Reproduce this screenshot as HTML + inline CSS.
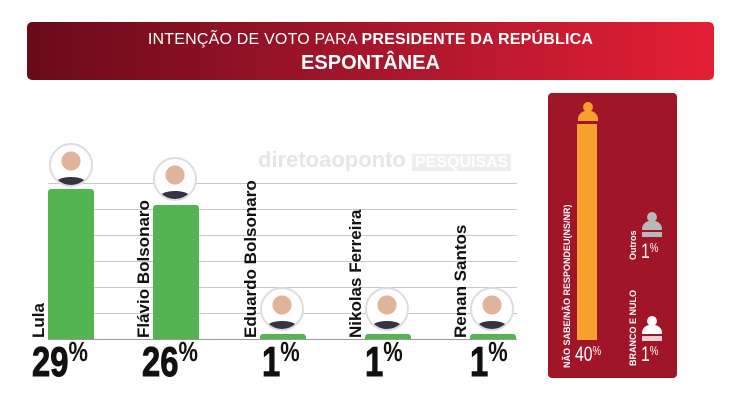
<!DOCTYPE html>
<html><head><meta charset="utf-8"><style>
body{margin:0;width:740px;height:418px;background:#fff;position:relative;overflow:hidden;font-family:"Liberation Sans",sans-serif}
.a{position:absolute}
.hdr{left:27px;top:22px;width:687px;height:58px;border-radius:5px;background:linear-gradient(90deg,#6a0a1a,#a0152a 45%,#e41f35);color:#fff;text-align:center}
.g{position:absolute;left:48px;width:469px;height:1px;background:#c8c8c8}
.bar{position:absolute;background:#52b552;border-radius:3px 3px 0 0;width:46px}
.nm{position:absolute;font-weight:bold;font-size:17px;color:#111;transform-origin:0 0;transform:rotate(-90deg);white-space:nowrap}
.pc{position:absolute;font-weight:bold;font-size:42px;color:#111;font-family:"Liberation Sans Narrow","Liberation Sans",sans-serif;transform:scaleX(.78);transform-origin:0 0;line-height:1;-webkit-text-stroke:1px #111}
.pc sup{font-size:28px;vertical-align:top;position:relative;top:-3px;-webkit-text-stroke:0}
.av{position:absolute;width:40px;height:40px;border-radius:50%;border:2px solid #ddd;background:radial-gradient(circle at 50% 40%,#e0b49a 0 30%,#fff 31%);overflow:hidden}
.av:after{content:"";position:absolute;left:4px;right:4px;bottom:-6px;height:14px;border-radius:50% 50% 0 0;background:#334}
.sm{position:absolute;font-size:21px;color:#fff;transform:scaleX(.75);transform-origin:0 0;line-height:1}
.sm sup{font-size:13px;vertical-align:top}
</style></head><body>
<div class="a hdr"><div style="font-size:16px;margin-top:9px;letter-spacing:.2px">INTENÇÃO DE VOTO PARA <b>PRESIDENTE DA REPÚBLICA</b></div><div style="font-size:20px;font-weight:bold;margin-top:3px">ESPONTÂNEA</div></div>
<div class="a" style="left:258px;top:147px;font-size:22px;font-weight:bold;color:#e6e6e6">diretoaoponto <span style="background:#eee;color:#fff;padding:0 3px;font-size:16px">PESQUISAS</span></div>
<div class="g" style="top:183px"></div><div class="g" style="top:209px"></div><div class="g" style="top:235px"></div><div class="g" style="top:261px"></div><div class="g" style="top:287px"></div><div class="g" style="top:313px"></div><div class="g" style="top:339px;background:#999"></div>
<div class="bar" style="left:48px;top:189px;height:150px"></div>
<div class="bar" style="left:153px;top:205px;height:134px"></div>
<div class="bar" style="left:260px;top:334px;height:5px"></div>
<div class="bar" style="left:365px;top:334px;height:5px"></div>
<div class="bar" style="left:470px;top:334px;height:5px"></div>
<div class="av" style="left:49px;top:143px"></div>
<div class="av" style="left:153px;top:157px"></div>
<div class="av" style="left:260px;top:287px"></div>
<div class="av" style="left:365px;top:287px"></div>
<div class="av" style="left:470px;top:287px"></div>
<div class="nm" style="left:29px;top:338px">Lula</div>
<div class="nm" style="left:134px;top:338px">Flávio Bolsonaro</div>
<div class="nm" style="left:241px;top:338px">Eduardo Bolsonaro</div>
<div class="nm" style="left:346px;top:338px">Nikolas Ferreira</div>
<div class="nm" style="left:451px;top:338px">Renan Santos</div>
<div class="pc" style="left:32px;top:341px">29<sup>%</sup></div>
<div class="pc" style="left:142px;top:341px">26<sup>%</sup></div>
<div class="pc" style="left:262px;top:341px">1<sup>%</sup></div>
<div class="pc" style="left:365px;top:341px">1<sup>%</sup></div>
<div class="pc" style="left:470px;top:341px">1<sup>%</sup></div>
<div class="a" style="left:548px;top:93px;width:129px;height:285px;background:#a01527;border-radius:4px"></div>
<div class="a" style="left:583px;top:102px;width:10px;height:10px;border-radius:50%;background:#f7a030"></div>
<div class="a" style="left:578px;top:111px;width:20px;height:10px;border-radius:8px 8px 0 0;background:#f7a030"></div>
<div class="a" style="left:577px;top:124px;width:20px;height:216px;background:#f7a030"></div>
<div class="nm" style="left:562px;top:368px;font-size:9px;color:#fff">NÃO SABE/NÃO RESPONDEU(NS/NR)</div>
<div class="sm" style="left:575px;top:344px">40<sup>%</sup></div>
<div class="a" style="left:647px;top:212px;width:10px;height:10px;border-radius:50%;background:#b8b8b8"></div>
<div class="a" style="left:642px;top:221px;width:20px;height:9px;border-radius:8px 8px 0 0;background:#b8b8b8"></div>
<div class="a" style="left:642px;top:232px;width:20px;height:5px;background:#b8b8b8"></div>
<div class="nm" style="left:628px;top:260px;font-size:9px;color:#fff">Outros</div>
<div class="sm" style="left:641px;top:241px">1<sup>%</sup></div>
<div class="a" style="left:647px;top:316px;width:10px;height:10px;border-radius:50%;background:#fff"></div>
<div class="a" style="left:642px;top:325px;width:20px;height:9px;border-radius:8px 8px 0 0;background:#fff"></div>
<div class="a" style="left:642px;top:336px;width:20px;height:5px;background:#f0d0d0"></div>
<div class="nm" style="left:628px;top:366px;font-size:9px;color:#fff">BRANCO E NULO</div>
<div class="sm" style="left:641px;top:344px">1<sup>%</sup></div>
</body></html>
